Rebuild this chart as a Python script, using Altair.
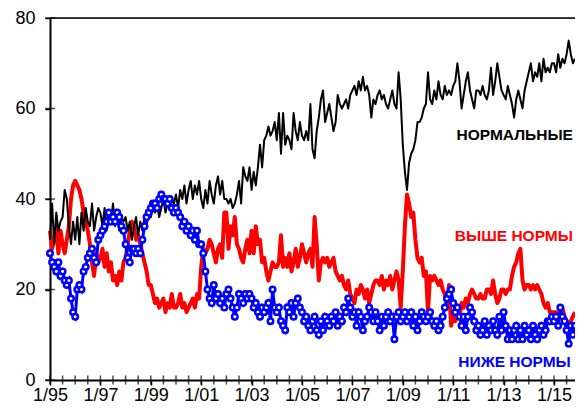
import altair as alt
import pandas as pd

# monthly values, Jan 1995 .. Nov 2015
normal = [
    31, 39, 30, 37, 33, 35, 36, 42, 40, 34, 30, 35,
    31, 36, 30, 37, 33, 38, 35, 34, 39, 33, 36, 38,
    37, 34, 38, 33, 36, 35, 39, 34, 37, 33, 36, 35,
    36, 33, 35, 31, 34, 36, 32, 35, 33, 36, 34, 37,
    36, 38, 37, 39, 36, 38, 40, 37, 39, 38, 40, 39,
    41, 38, 42, 40, 43, 39, 42, 44, 40, 43, 41, 44,
    40, 38, 42, 39, 44, 41, 39, 43, 45, 41, 44, 40,
    40, 39, 40, 38, 39, 41, 44, 39, 47, 45, 44, 47,
    42, 46, 43, 47, 52, 47, 53, 54, 56, 54, 55, 57,
    53, 59, 50, 59, 52, 54, 53, 51, 59, 55, 53, 57,
    54, 53, 55, 53, 61, 51, 49, 55, 58, 62, 64, 57,
    59, 61, 58, 55, 57, 63, 61, 60, 61, 62, 60, 63,
    64, 65, 63, 66, 64, 67, 64, 65, 63, 58, 62, 61,
    63, 64, 62, 63, 61, 60, 62, 64, 61, 60, 68, 62,
    52, 46, 42, 48, 50, 51, 53, 57, 57, 58, 60, 61,
    68, 62, 61, 64, 62, 66, 63, 62, 65, 63, 64, 63,
    65, 66, 70, 66, 60, 63, 66, 68, 64, 62, 60, 64,
    64, 63, 65, 63, 62, 64, 69, 63, 66, 70, 67, 64,
    63, 62, 65, 63, 61, 58, 62, 64, 62, 60, 64, 66,
    68, 70, 66, 68, 67, 70, 66, 71, 68, 69, 68, 70,
    70, 68, 72, 69, 71, 70, 72, 75, 72, 70, 71,
]

above = [
    33, 29, 31, 34, 28, 33, 30, 28, 31, 34, 40, 43,
    44, 43, 42, 40, 37, 35, 33, 30, 26, 23, 28, 26,
    27, 29, 25, 28, 24, 26, 22, 23, 21, 24, 22, 26,
    27, 30, 33, 35, 34, 31, 32, 30, 28, 26, 24, 21,
    21, 19, 17, 18, 16, 17, 18, 15, 17, 16, 19, 16,
    16, 17, 19, 16, 17, 15, 16, 17, 18, 16, 19, 18,
    25, 29, 28, 29, 31, 30, 28, 26, 29, 30, 27, 37,
    37, 29, 34, 32, 36, 30, 29, 27, 26, 29, 31, 28,
    33, 28, 34, 30, 31, 26, 27, 24, 22, 24, 26, 25,
    25, 26, 32, 25, 27, 25, 28, 24, 26, 29, 25, 27,
    30, 28, 26, 28, 29, 25, 36, 30, 22, 26, 27, 26,
    27, 25, 26, 27, 24, 23, 22, 23, 21, 20, 22, 19,
    18, 17, 20, 19, 21, 20, 18, 20, 17, 19, 21, 22,
    22, 21, 23, 20, 22, 21, 23, 20, 22, 24, 22, 16,
    24, 34, 41, 39, 36, 37, 31, 27, 26, 27, 23, 24,
    15, 23, 22, 23, 22, 21, 22, 20, 19, 17, 21, 12,
    14, 13, 15, 14, 17, 16, 18, 17, 19, 20, 19, 18,
    18, 19, 18, 18, 20, 20, 19, 22, 19, 17, 18, 20,
    20, 19, 20, 20, 23, 25, 26, 28, 29, 22, 20, 21,
    21, 20, 21, 20, 21, 20, 19, 17, 16, 17, 15, 15,
    15, 15, 14, 15, 16, 14, 13, 12, 13, 14, 15,
]

below = [
    28, 26, 25, 24, 26, 23, 24, 22, 21, 22, 18, 15,
    14, 20, 21, 20, 24, 25, 27, 28, 29, 27, 26, 31,
    32, 33, 34, 35, 37, 35, 36, 35, 37, 36, 34, 33,
    30, 27, 26, 29, 29, 28, 29, 28, 31, 34, 36, 37,
    38, 39, 39, 38, 40, 41, 40, 40, 39, 40, 38, 37,
    38, 37, 36, 34, 35, 33, 34, 32, 33, 31, 33, 30,
    30, 28, 24, 20, 18, 17, 21, 18, 19, 17, 18, 16,
    19, 20, 18, 16, 14, 16, 19, 18, 17, 19, 18, 19,
    18, 16, 17, 15, 14, 16, 15, 16, 17, 13, 20, 16,
    15, 16, 13, 12, 11, 16, 15, 17, 14, 17, 18, 16,
    15, 13, 14, 12, 11, 13, 14, 11, 10, 13, 11, 14,
    13, 12, 14, 13, 15, 12, 14, 13, 16, 15, 18, 16,
    14, 15, 12, 15, 14, 11, 13, 14, 16, 15, 13, 15,
    13, 11, 14, 12, 14, 15, 13, 14, 9, 14, 15, 13,
    14, 15, 13, 14, 15, 12, 14, 11, 13, 15, 14, 13,
    14, 15, 13, 12, 13, 11, 12, 14, 16, 18, 19, 20,
    17, 15, 16, 14, 12, 14, 11, 14, 16, 15, 13, 11,
    12, 10, 11, 13, 10, 12, 11, 13, 11, 10, 14, 11,
    15, 12, 9, 11, 9, 11, 12, 9, 11, 9, 12, 10,
    11, 9, 12, 10, 9, 11, 12, 10, 11, 13, 13, 14,
    13, 14, 12, 16, 14, 13, 11, 8, 12, 10, 12,
]

x_tick_labels = ["1/95", "1/97", "1/99", "1/01", "1/03", "1/05",
                 "1/07", "1/09", "1/11", "1/13", "1/15"]
y_ticks = [0, 20, 40, 60, 80]
series_names = ["НОРМАЛЬНЫЕ", "ВЫШЕ НОРМЫ", "НИЖЕ НОРМЫ"]

n = len(normal)
df_n = pd.DataFrame({"m": range(n), "v": normal})
df_a = pd.DataFrame({"m": range(n), "v": above})
df_b = pd.DataFrame({"m": range(n), "v": below})

FONT = "Liberation Sans"
x_ticks = list(range(0, n, 6))
label_array = "[" + ",".join('"%s"' % s for s in x_tick_labels) + "]"
label_expr = "datum.value % 24 == 0 ? " + label_array + "[datum.value / 24] : ''"

x_enc = alt.X("m:Q",
              scale=alt.Scale(domain=[0, n - 1], nice=False, zero=False),
              axis=alt.Axis(values=x_ticks, labelExpr=label_expr, grid=False,
                            title=None, tickSize=5, tickWidth=1.5, tickColor="black",
                            domainColor="black", domainWidth=2,
                            labelFont=FONT, labelFontSize=18, labelColor="black",
                            labelPadding=1, labelOverlap=False, labelFlush=False))
y_enc = alt.Y("v:Q",
              scale=alt.Scale(domain=[0, 80], nice=False, zero=True),
              axis=alt.Axis(values=y_ticks, grid=False, title=None,
                            tickSize=5, tickWidth=1.5, tickColor="black",
                            domainColor="black", domainWidth=2,
                            labelFont=FONT, labelFontSize=18, labelColor="black",
                            labelPadding=10))

red = alt.Chart(df_a).mark_line(color="#ff0000", strokeWidth=4, strokeJoin="round").encode(x=x_enc, y=y_enc)
black = alt.Chart(df_n).mark_line(color="#000000", strokeWidth=2, strokeJoin="round").encode(x=x_enc, y=y_enc)
blue = alt.Chart(df_b).mark_line(
    color="#0000ff", strokeWidth=3,
    point=alt.OverlayMarkDef(filled=False, fill="white", color="#0000ff",
                             size=30, strokeWidth=2.5, opacity=1)
).encode(x=x_enc, y=y_enc)

top_rule = alt.Chart(pd.DataFrame({"v": [y_ticks[-1]]})).mark_rule(
    color="black", strokeWidth=1.5).encode(y=alt.Y("v:Q"))

# crossing ticks on the axes
y_cross = alt.Chart(pd.DataFrame({"v": y_ticks})).mark_tick(
    orient="horizontal", color="black", size=10, thickness=1.5).encode(
    y=alt.Y("v:Q"), x=alt.value(0))
x_cross = alt.Chart(pd.DataFrame({"m": x_ticks})).mark_tick(
    orient="vertical", color="black", size=9, thickness=1.5).encode(
    x=alt.X("m:Q"), y=alt.value(362))

def lab(text, color, xm, yv):
    return alt.Chart(pd.DataFrame({"t": [text]})).mark_text(
        align="right", baseline="middle", font=FONT, fontSize=15.5,
        fontWeight="bold", color=color).encode(
        x=alt.datum(xm), y=alt.datum(yv), text="t:N")

labels = (lab(series_names[0], "#000000", 249, 54.1)
          + lab(series_names[1], "#ff0000", 249, 31.9)
          + lab(series_names[2], "#0000ff", 248, 3.9))

chart = alt.layer(red, black, blue, top_rule, y_cross, x_cross, labels).properties(
    width=525, height=362,
    autosize=alt.AutoSizeParams(type="none"),
    padding={"left": 42, "top": 10, "right": 0, "bottom": 24},
    background="white",
).configure_view(stroke="#a0a0a0", strokeWidth=1)

chart.save("out.html", embed_options={"renderer": "svg", "actions": False})
